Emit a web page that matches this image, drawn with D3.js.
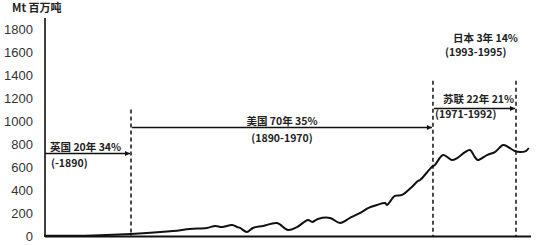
<!DOCTYPE html>
<html>
<head>
<meta charset="utf-8">
<script src="https://cdn.jsdelivr.net/npm/d3@7"></script>
<style>
  body { margin: 0; background: #fff; }
  svg { display: block; }
</style>
</head>
<body>
<div id="chart"></div>
<script>
// production curve (year, Mt)
const years = [1867, 1880, 1890, 1901.1, 1905.6, 1910.1, 1912.3, 1914.1, 1916.8, 1918.1, 1918.9, 1920.7,
  1922.3, 1925, 1928.7, 1931.6, 1934, 1936.9, 1938, 1939.5, 1942.7, 1945.4, 1948, 1951.2, 1952.8,
  1955.2, 1957.3, 1957.8, 1959.9, 1961.8, 1964.4, 1966, 1966.6, 1969.7, 1970.5, 1972.7, 1975,
  1976.4, 1978.5, 1979.8, 1981.1, 1981.9, 1984.3, 1986.4, 1988.6, 1989.9, 1991.7, 1993.1, 1994.6, 1995.4];
const values = [2, 5, 17, 43, 61, 70, 87, 78, 96, 78, 70, 35,
  70, 87, 113, 52, 78, 139, 122, 148, 157, 113, 157, 209, 243,
  270, 287, 270, 348, 357, 426, 478, 487, 600, 617, 704, 661,
  678, 730, 748, 687, 661, 704, 730, 791, 774, 739, 730, 739, 765];

const yTicks = [0, 200, 400, 600, 800, 1000, 1200, 1400, 1600, 1800];
const bounds = [1890, 1970, 1992];

// periods: arrow from..to, labels
const periods = [
  { from: 1867, to: 1890, level: 720, title: "英国 20年 34%", range: "(-1890)" },
  { from: 1890, to: 1970, level: 945, title: "美国 70年 35%", range: "(1890-1970)" },
  { from: 1970, to: 1992, level: 1115, title: "苏联 22年 21%", range: "(1971-1992)" }
];
const japan = { title: "日本 3年 14%", range: "(1993-1995)" };

const width = 539, height = 245;
const svg = d3.select("#chart").append("svg")
  .attr("width", width).attr("height", height);

const x = d3.scaleLinear().domain([1867, 1996]).range([44.2, 531.1]);
const y = d3.scaleLinear().domain([0, 1800]).range([236, 29]);

const font = "'Liberation Sans', Arial, sans-serif";
const cjk = "'Noto Sans CJK SC', 'Liberation Sans', sans-serif";

svg.append("text")
  .attr("x", 12).attr("y", 12)
  .style("font-family", cjk).style("font-size", "11px").style("font-weight", "bold")
  .attr("fill", "#222")
  .text("Mt 百万吨");

// y axis
svg.append("g")
  .attr("transform", "translate(45,0)")
  .call(d3.axisLeft(y).tickValues(yTicks).tickSize(0).tickPadding(12).tickFormat(d3.format("d")))
  .call(g => g.select(".domain").remove())
  .selectAll("text")
  .style("font-family", font).style("font-size", "13px").attr("fill", "#333");

svg.append("line")
  .attr("x1", 45).attr("x2", 45).attr("y1", 18).attr("y2", 237)
  .attr("stroke", "#111").attr("stroke-width", 1.6);
svg.append("line")
  .attr("x1", 45).attr("x2", 531).attr("y1", 236.5).attr("y2", 236.5)
  .attr("stroke", "#111").attr("stroke-width", 2);

// dashed separators
const tops = [1100, 1350, 1350];
svg.selectAll(".sep").data(bounds).join("line")
  .attr("class", "sep")
  .attr("x1", d => x(d)).attr("x2", d => x(d))
  .attr("y1", (d, i) => y(tops[i])).attr("y2", 236)
  .attr("stroke", "#111").attr("stroke-width", 1.5)
  .attr("stroke-dasharray", "4,3");

// arrow heads
svg.append("defs").append("marker")
  .attr("id", "arr").attr("viewBox", "0 0 10 10")
  .attr("refX", 10).attr("refY", 5)
  .attr("markerWidth", 7).attr("markerHeight", 5)
  .attr("markerUnits", "userSpaceOnUse")
  .attr("orient", "auto")
  .append("path").attr("d", "M0,0L10,5L0,10Z").attr("fill", "#111");

svg.selectAll(".arrow").data(periods).join("line")
  .attr("class", "arrow")
  .attr("x1", d => x(d.from) + 1).attr("x2", d => x(d.to) - 1)
  .attr("y1", d => Math.round(y(d.level)) + 0.5).attr("y2", d => Math.round(y(d.level)) + 0.5)
  .attr("stroke", "#111").attr("stroke-width", 1.6)
  .attr("marker-end", "url(#arr)");

// labels
const lbl = (tx, ty, t, anchor) => svg.append("text")
  .attr("x", tx).attr("y", ty).attr("text-anchor", anchor || "start")
  .style("font-family", cjk).style("font-size", "10.5px").style("font-weight", "bold")
  .attr("fill", "#222").text(t);

lbl(50, 151, periods[0].title);
lbl(51, 167, periods[0].range);
lbl(282, 125, periods[1].title, "middle");
lbl(282, 142, periods[1].range, "middle");
lbl(443, 103, periods[2].title);
lbl(435, 118, periods[2].range);
lbl(453, 42, japan.title);
lbl(445, 56, japan.range);

// production line
const line = d3.line()
  .x((d, i) => x(years[i]))
  .y(d => y(d))
  .curve(d3.curveCatmullRom.alpha(0.5));

svg.append("path")
  .datum(values)
  .attr("d", line)
  .attr("fill", "none")
  .attr("stroke", "#111")
  .attr("stroke-width", 2)
  .attr("stroke-linejoin", "round");
</script>
</body>
</html>
